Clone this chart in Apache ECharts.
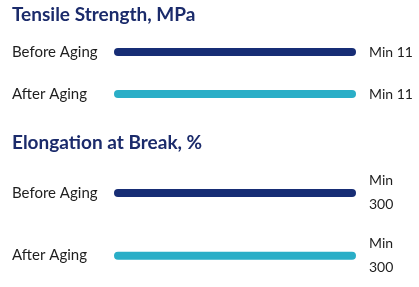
<!DOCTYPE html>
<html><head><meta charset="utf-8">
<script src="https://cdn.jsdelivr.net/npm/echarts@6/dist/echarts.min.js"></script>
<style>html,body{margin:0;padding:0;background:#fff}#c{width:419px;height:287px}</style>
</head><body><div id="c"></div>
<script>
const titles = ['Tensile Strength, MPa', 'Elongation at Break, %'];
const categories = ['Before Aging', 'After Aging'];
const tensileValues = [11, 11];
const elongationValues = [300, 300];
const tensileLabels = ['Min 11', 'Min 11'];
const elongationLabels = ['Min\n300', 'Min\n300'];
const colors = ['#172d75', '#2aaec7'];

const font = 'Lato';
const chart = echarts.init(document.getElementById('c'));
function mk(vals, labels) {
  return vals.map((v, i) => ({
    value: v,
    itemStyle: { color: colors[i] },
    label: { formatter: labels[i] }
  }));
}
const yAxisBase = {
  type: 'category', data: categories, inverse: true,
  axisLine: { show: false }, axisTick: { show: false },
  axisLabel: { align: 'left', margin: 102, color: '#1e1e1e', fontSize: 15, fontFamily: font }
};
const titleStyle = { fontFamily: font, fontSize: 19, fontWeight: 'bold', color: '#1b2b6b' };
chart.setOption({
  animation: false,
  title: [
    { text: titles[0], left: 7, top: 0, textStyle: titleStyle },
    { text: titles[1], left: 7, top: 128, textStyle: titleStyle }
  ],
  grid: [
    { left: 114, right: 63, top: 31, height: 84 },
    { left: 114, right: 63, top: 161.5, height: 126 }
  ],
  xAxis: [
    { type: 'value', gridIndex: 0, min: 0, max: Math.max(...tensileValues), show: false },
    { type: 'value', gridIndex: 1, min: 0, max: Math.max(...elongationValues), show: false }
  ],
  yAxis: [
    Object.assign({ gridIndex: 0 }, yAxisBase),
    Object.assign({ gridIndex: 1 }, yAxisBase)
  ],
  series: [
    { type: 'bar', xAxisIndex: 0, yAxisIndex: 0, barWidth: 8, data: mk(tensileValues, tensileLabels),
      itemStyle: { borderRadius: 4 },
      label: { show: true, position: 'right', distance: 13, color: '#1e1e1e', fontSize: 14, fontFamily: font, lineHeight: 24 } },
    { type: 'bar', xAxisIndex: 1, yAxisIndex: 1, barWidth: 8, data: mk(elongationValues, elongationLabels),
      itemStyle: { borderRadius: 4 },
      label: { show: true, position: 'right', distance: 13, color: '#1e1e1e', fontSize: 14, fontFamily: font, lineHeight: 24, align: 'left' } }
  ]
});
</script></body></html>
